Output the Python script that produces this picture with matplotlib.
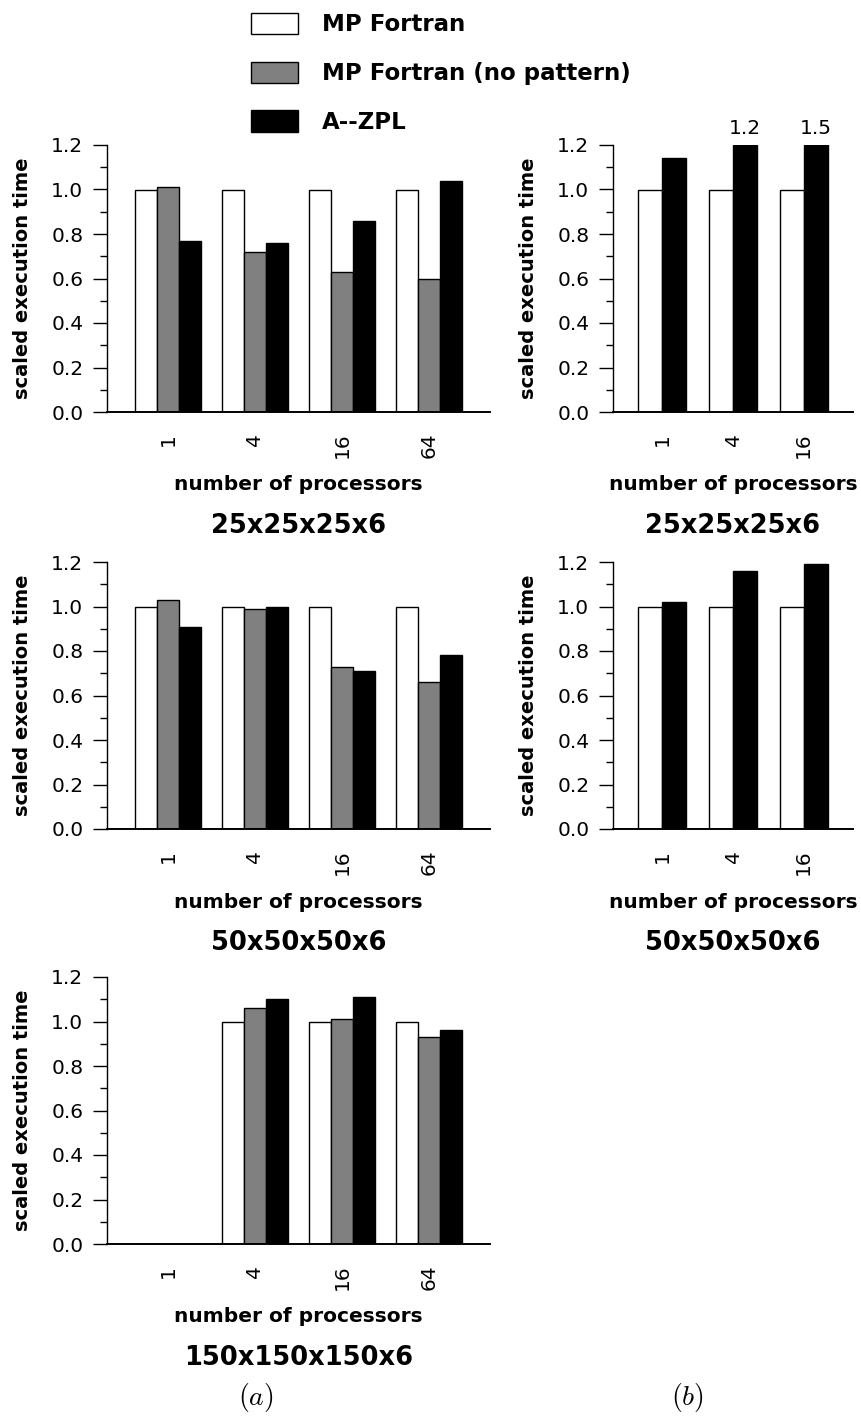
import matplotlib.pyplot as plt
import numpy as np
from matplotlib.ticker import MultipleLocator

plt.rcParams['font.family'] = ['DejaVu Sans']
plt.rcParams['mathtext.fontset'] = 'cm'

series = ["MP Fortran", "MP Fortran (no pattern)", "A--ZPL"]
fills = ["white", "#808080", "black"]

procs_a = ["1", "4", "16", "64"]
procs_b = ["1", "4", "16"]

# (a) MP Fortran vs. MP Fortran without the pattern vs. A--ZPL
mp_25 = [1.0, 1.0, 1.0, 1.0]
nopat_25 = [1.01, 0.72, 0.63, 0.60]
zpl_25 = [0.77, 0.76, 0.86, 1.04]

mp_50 = [1.0, 1.0, 1.0, 1.0]
nopat_50 = [1.03, 0.99, 0.73, 0.66]
zpl_50 = [0.91, 1.00, 0.71, 0.78]

mp_150 = [0.0, 1.0, 1.0, 1.0]
nopat_150 = [0.0, 1.06, 1.01, 0.93]
zpl_150 = [0.0, 1.10, 1.11, 0.96]

# (b) MP Fortran vs. A--ZPL
mp_b25 = [1.0, 1.0, 1.0]
zpl_b25 = [1.14, 1.2, 1.5]

mp_b50 = [1.0, 1.0, 1.0]
zpl_b50 = [1.02, 1.16, 1.19]

YMAX = 1.2
W, H = 861, 1416


def panel(rect, procs, values, colors, width, title):
    ax = fig.add_axes(rect)
    x = np.arange(len(procs))
    n = len(values)
    bars = []
    for i, (vals, c) in enumerate(zip(values, colors)):
        off = (i - (n - 1) / 2) * width
        b = ax.bar(x + off, vals, width, color=c, edgecolor="black", linewidth=1.0)
        bars.append(b)
        # values past the top of the axis get written above the bar
        for xi, v in zip(x + off, vals):
            if v >= YMAX - 1e-9 and c == "black":
                ax.annotate(f"{v:.1f}", (xi, YMAX), xytext=(0, 5),
                            textcoords="offset points", ha="center", va="bottom",
                            fontsize=14.5, annotation_clip=False)
    ax.set_xlim(-0.7, len(procs) - 0.3)
    ax.set_ylim(0, YMAX)
    ax.set_xticks(x, procs)
    ax.tick_params(axis="x", length=0, pad=15, labelsize=14.5, labelrotation=90)
    ax.yaxis.set_major_locator(MultipleLocator(0.2))
    ax.yaxis.set_minor_locator(MultipleLocator(0.1))
    ax.yaxis.set_major_formatter(lambda v, p: f"{v:.1f}")
    ax.tick_params(axis="y", which="major", length=10, width=1.0, labelsize=14.5, pad=7)
    ax.tick_params(axis="y", which="minor", length=5, width=1.0)
    for s in ("top", "right"):
        ax.spines[s].set_visible(False)
    ax.spines["left"].set_linewidth(1.0)
    ax.spines["bottom"].set_linewidth(1.4)
    ax.set_ylabel("scaled execution time", fontsize=14, fontweight="bold")
    ax.yaxis.set_label_coords(-84 / (rect[2] * W), 0.5)
    ax.yaxis.label.set_va("center")
    ax.set_xlabel("number of processors", fontsize=14.5, fontweight="bold")
    ax.xaxis.set_label_coords(0.5, -73 / (rect[3] * H))
    ax.xaxis.label.set_va("center")
    ax.text(0.5, -114 / (rect[3] * H), title, transform=ax.transAxes,
            ha="center", va="center", fontsize=18.5, fontweight="bold")
    return ax, bars


fig = plt.figure(figsize=(W / 100, H / 100), dpi=100)

ah = 267 / H
left_a, wid_a = 107 / W, 383 / W
left_b, wid_b = 613 / W, 240 / W

ax1, bars = panel([left_a, 1 - 412 / H, wid_a, ah], procs_a,
                  [mp_25, nopat_25, zpl_25], fills, 0.25, "25x25x25x6")
panel([left_a, 1 - 829 / H, wid_a, ah], procs_a,
      [mp_50, nopat_50, zpl_50], fills, 0.25, "50x50x50x6")
panel([left_a, 1 - 1244 / H, wid_a, ah], procs_a,
      [mp_150, nopat_150, zpl_150], fills, 0.25, "150x150x150x6")

panel([left_b, 1 - 412 / H, wid_b, ah], procs_b,
      [mp_b25, zpl_b25], [fills[0], fills[2]], 0.34, "25x25x25x6")
panel([left_b, 1 - 829 / H, wid_b, ah], procs_b,
      [mp_b50, zpl_b50], [fills[0], fills[2]], 0.34, "50x50x50x6")

fig.legend(bars, series, loc="upper left", bbox_to_anchor=(251 / W, 1 - 13 / H),
           frameon=False, prop={"weight": "bold", "size": 16.5},
           handlelength=2.05, handleheight=1.05, handletextpad=1.05,
           labelspacing=1.1, borderpad=0, borderaxespad=0)

fig.text(256 / W, 1 - 1397 / H, r"$(a)$", ha="center", va="center", fontsize=20)
fig.text(687 / W, 1 - 1397 / H, r"$(b)$", ha="center", va="center", fontsize=20)

fig.savefig("out.png", dpi=100)
